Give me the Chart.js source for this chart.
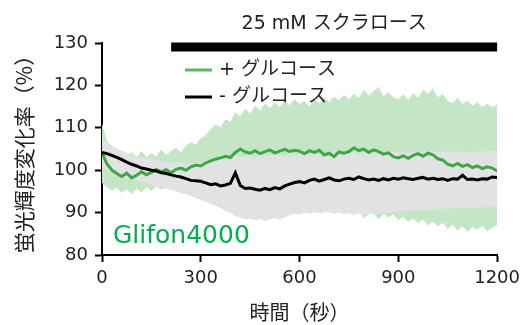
<!DOCTYPE html>
<html lang="ja">
<head>
<meta charset="UTF-8">
<title>Glifon4000 スクラロース応答</title>
<script src="https://cdn.jsdelivr.net/npm/chart.js@4.4.1/dist/chart.umd.min.js"></script>
<style>
  body { margin: 0; background: #fff; }
  #wrap { width: 526px; height: 325px; }
</style>
</head>
<body>
<div id="wrap"><canvas id="chart" width="526" height="325"></canvas></div>
<script>
// time (s)
const time = [
  0, 15, 30, 45, 60, 75, 90, 105, 120, 135,
  150, 165, 180, 195, 210, 225, 240, 255, 270, 285,
  300, 315, 330, 345, 360, 375, 390, 405, 420, 435,
  450, 465, 480, 495, 510, 525, 540, 555, 570, 585,
  600, 615, 630, 645, 660, 675, 690, 705, 720, 735,
  750, 765, 780, 795, 810, 825, 840, 855, 870, 885,
  900, 915, 930, 945, 960, 975, 990, 1005, 1020, 1035,
  1050, 1065, 1080, 1095, 1110, 1125, 1140, 1155, 1170, 1185,
  1200
];

// + glucose: mean and band (mean +/- SD)
const plusMean = [
  104.0, 101.5, 100.0, 99.2, 98.5, 99.3, 98.2, 98.8, 99.6, 98.9,
  99.5, 100.2, 99.6, 100.1, 99.4, 100.2, 100.5, 100.0, 100.8, 101.2,
  101.0, 101.7, 102.2, 102.6, 102.9, 103.3, 103.0, 104.2, 105.0, 104.3,
  104.0, 104.6, 103.9, 104.4, 104.8, 104.1, 104.5, 104.9, 104.4, 104.7,
  104.5, 103.9, 104.6, 104.2, 104.7, 103.6, 104.0, 103.2, 104.3, 104.0,
  104.4, 105.3, 104.6, 105.0, 104.2, 104.8, 104.4, 103.8, 104.1, 103.2,
  102.9, 103.4, 102.8, 103.5, 103.9, 103.3, 104.0, 103.6, 102.7, 102.4,
  101.4, 101.0, 101.6, 100.9, 101.3, 100.6, 101.0, 100.4, 100.8, 100.5,
  99.8
];
const plusHi = [
  111.0, 107.0, 104.5, 103.2, 104.8, 102.9, 104.3, 103.0, 104.6, 103.1,
  104.0, 103.3, 104.9, 103.6, 104.5, 105.3, 104.2, 105.8, 106.6, 106.0,
  107.5, 108.3, 109.6, 110.8, 110.1, 112.0, 111.4, 113.6, 112.8, 114.5,
  113.4, 115.2, 114.1, 115.8, 114.6, 116.0, 114.9, 116.4, 115.3, 116.8,
  115.6, 116.3, 115.0, 116.9, 115.7, 117.2, 116.1, 117.4, 116.5, 117.8,
  116.6, 118.1, 117.0, 119.0, 117.6, 118.6, 119.6, 117.4, 118.4, 117.2,
  116.8, 117.9, 116.5, 118.2, 117.0, 119.1, 118.0, 119.3, 117.2, 118.0,
  116.3, 115.8, 117.1, 115.6, 116.4, 115.2, 116.0, 115.0, 115.7, 114.9,
  115.5
];
const plusLo = [
  97.0, 96.0, 95.3, 95.8, 94.6, 95.5, 94.3, 95.6, 94.8, 95.9,
  95.1, 96.2, 95.4, 96.0, 95.3, 95.7, 96.1, 95.0, 95.4, 95.9,
  95.2, 95.0, 94.6, 94.3, 94.8, 94.0, 94.4, 93.7, 94.2, 93.5,
  94.0, 93.3, 93.8, 93.1, 93.6, 92.9, 93.4, 92.8, 93.2, 92.5,
  93.0, 92.3, 92.8, 92.1, 92.6, 91.8, 92.2, 91.4, 91.9, 91.1,
  90.6, 89.3, 90.2, 88.7, 89.6, 89.9, 88.4, 89.7, 88.8, 89.6,
  88.2, 89.0, 87.8, 88.6, 87.4, 88.3, 87.0, 87.9, 86.8, 87.6,
  86.1, 87.2, 85.7, 86.8, 85.5, 86.6, 85.9, 86.9, 85.6, 86.4,
  87.0
];

// - glucose: mean and band
const minusMean = [
  104.2, 103.9, 103.5, 103.0, 102.5, 101.9, 101.4, 101.0, 100.5, 100.3,
  100.0, 99.8, 99.4, 99.2, 98.9, 98.6, 98.4, 98.0, 97.6, 97.5,
  97.4, 97.0, 96.6, 96.8, 96.3, 96.5, 96.9, 99.4, 96.4, 95.7,
  95.8, 95.5, 95.3, 95.7, 95.4, 95.9, 95.6, 96.3, 96.7, 97.1,
  97.3, 97.0, 97.6, 97.9, 97.4, 97.8, 98.2, 97.7, 97.5, 97.9,
  98.1, 97.8, 98.4, 98.0, 97.7, 97.9, 97.6, 98.0, 97.7, 98.1,
  97.9, 98.2, 98.0, 97.8, 98.1, 98.3, 97.9, 98.1, 97.8, 98.0,
  97.6, 98.0, 97.9, 98.8, 97.8, 97.9, 97.7, 98.0, 97.9, 98.4,
  98.3
];
const minusHi = [
  107.5, 106.6, 105.8, 105.1, 104.6, 104.1, 103.7, 103.3, 103.0, 102.8,
  102.6, 102.4, 102.2, 102.0, 101.9, 101.8, 101.7, 101.6, 101.6, 101.6,
  101.8, 102.0, 102.1, 102.4, 102.6, 102.8, 103.0, 103.5, 103.2, 103.3,
  103.4, 103.2, 103.6, 103.3, 103.7, 103.5, 103.8, 103.4, 103.9, 103.6,
  103.8, 104.0, 103.7, 104.1, 103.8, 104.2, 103.9, 104.1, 103.8, 104.2,
  104.0, 104.3, 103.9, 104.2, 104.0, 104.4, 104.1, 104.3, 104.0, 104.4,
  104.1, 104.3, 104.0, 104.4, 104.2, 104.5, 104.1, 104.4, 104.2, 104.5,
  104.2, 104.6, 104.3, 104.5, 104.2, 104.6, 104.3, 104.5, 104.4, 104.6,
  104.5
];
const minusLo = [
  100.5, 100.0, 99.6, 99.0, 98.6, 98.0, 97.8, 97.5, 97.2, 97.0,
  96.6, 96.3, 96.0, 95.6, 95.3, 95.0, 94.6, 94.3, 93.9, 93.4,
  93.0, 92.6, 92.0, 91.6, 91.0, 90.4, 89.9, 89.2, 88.8, 88.4,
  88.6, 88.2, 88.5, 88.0, 88.4, 88.7, 88.3, 88.9, 89.4, 89.8,
  89.6, 90.0, 89.7, 90.1, 89.8, 90.2, 90.0, 89.7, 90.1, 89.6,
  89.9, 89.5, 89.8, 89.3, 89.7, 90.0, 89.6, 90.2, 89.8, 90.3,
  90.0, 90.6, 90.2, 90.8, 90.4, 90.9, 90.5, 91.0, 90.6, 91.1,
  90.7, 91.2, 90.8, 91.3, 90.9, 91.4, 91.0, 91.5, 91.1, 91.4,
  91.2
];

// sucrose application bar
const sucroseTime = [210, 1200];
const sucroseLevel = 129.05;

const sucroseLabel = '25 mM スクラロース';
const plusLabel = '+ グルコース';
const minusLabel = '- グルコース';
const probeName = 'Glifon4000';
const xTitle = '時間（秒）';
const yTitle = '蛍光輝度変化率（%）';

const GREEN = '#3ea846';
const GREEN_BAND = '#c4e6c7';
const GRAY_BAND = '#e2e2e2';
const FONT = "'DejaVu Sans', 'Noto Sans CJK JP', sans-serif";
const JFONT = "'Noto Sans CJK JP', 'Noto Sans', sans-serif";

function pts(arr) {
  return time.map((t, i) => ({ x: t, y: arr[i] }));
}

Chart.defaults.font.family = FONT;
Chart.defaults.color = '#222';

// labels, legend and probe name drawn on top
const annotate = {
  id: 'annotate',
  afterDraw(chart) {
    const ctx = chart.ctx;
    const area = chart.chartArea;
    const xs = chart.scales.x;
    ctx.save();
    ctx.textBaseline = 'middle';

    ctx.fillStyle = '#222';
    ctx.font = '19px ' + FONT;
    ctx.textAlign = 'center';
    let cx = (xs.getPixelForValue(sucroseTime[0]) + xs.getPixelForValue(sucroseTime[1])) / 2;
    ctx.fillText(sucroseLabel, cx, area.top - 19);

    // legend
    let lx = area.left + 83;
    let rows = [['#5bb861', plusLabel, area.top + 27], ['#000', minusLabel, area.top + 54]];
    ctx.textAlign = 'left';
    rows.forEach(function (r) {
      ctx.strokeStyle = r[0];
      ctx.lineWidth = 3;
      ctx.beginPath();
      ctx.moveTo(lx, r[2]);
      ctx.lineTo(lx + 27, r[2]);
      ctx.stroke();
      ctx.fillStyle = '#222';
      ctx.fillText(r[1], lx + 34, r[2]);
    });

    ctx.fillStyle = '#00b050';
    ctx.font = '25px ' + FONT;
    ctx.textBaseline = 'alphabetic';
    ctx.fillText(probeName, area.left + 11, area.bottom - 12);
    ctx.restore();
  }
};

new Chart('chart', {
  type: 'line',
  data: {
    datasets: [
      { data: pts(plusHi), fill: '+1', backgroundColor: GREEN_BAND, borderWidth: 0, pointRadius: 0, order: 6 },
      { data: pts(plusLo), fill: false, borderWidth: 0, pointRadius: 0, order: 6 },
      { data: pts(minusHi), fill: '+1', backgroundColor: GRAY_BAND, borderWidth: 0, pointRadius: 0, order: 5 },
      { data: pts(minusLo), fill: false, borderWidth: 0, pointRadius: 0, order: 5 },
      { data: pts(plusMean), borderColor: GREEN, borderWidth: 3, pointRadius: 0, fill: false, order: 2 },
      { data: pts(minusMean), borderColor: '#000', borderWidth: 3, pointRadius: 0, fill: false, order: 1 },
      {
        data: sucroseTime.map(t => ({ x: t, y: sucroseLevel })),
        borderColor: '#000', borderWidth: 9, borderCapStyle: 'butt',
        pointRadius: 0, fill: false, clip: false, order: 0
      }
    ]
  },
  options: {
    responsive: false,
    animation: false,
    devicePixelRatio: 1,
    layout: { padding: { top: 43, right: 27, left: 0, bottom: 0 } },
    plugins: { legend: { display: false }, tooltip: { enabled: false } },
    scales: {
      x: {
        type: 'linear', min: 0, max: 1200,
        afterFit: s => { s.height = 70; },
        ticks: { stepSize: 300, padding: 6, font: { size: 18 }, color: '#222', callback: v => String(v) },
        grid: { drawOnChartArea: false, tickLength: 7, tickColor: '#000', tickWidth: 2 },
        border: { color: '#000', width: 2 },
        title: { display: true, text: xTitle, font: { size: 20, family: JFONT }, color: '#222', padding: { top: 0, bottom: 1 } }
      },
      y: {
        min: 80, max: 130,
        afterFit: s => { s.width = 102; },
        ticks: { stepSize: 10, padding: 7, font: { size: 18 }, color: '#222', callback: v => String(v) },
        grid: { drawOnChartArea: false, tickLength: 7, tickColor: '#000', tickWidth: 2 },
        border: { color: '#000', width: 2 },
        title: { display: true, text: yTitle, font: { size: 21, family: JFONT }, color: '#222', padding: { top: 11, bottom: 0 } }
      }
    }
  },
  plugins: [annotate]
});
</script>
</body>
</html>
